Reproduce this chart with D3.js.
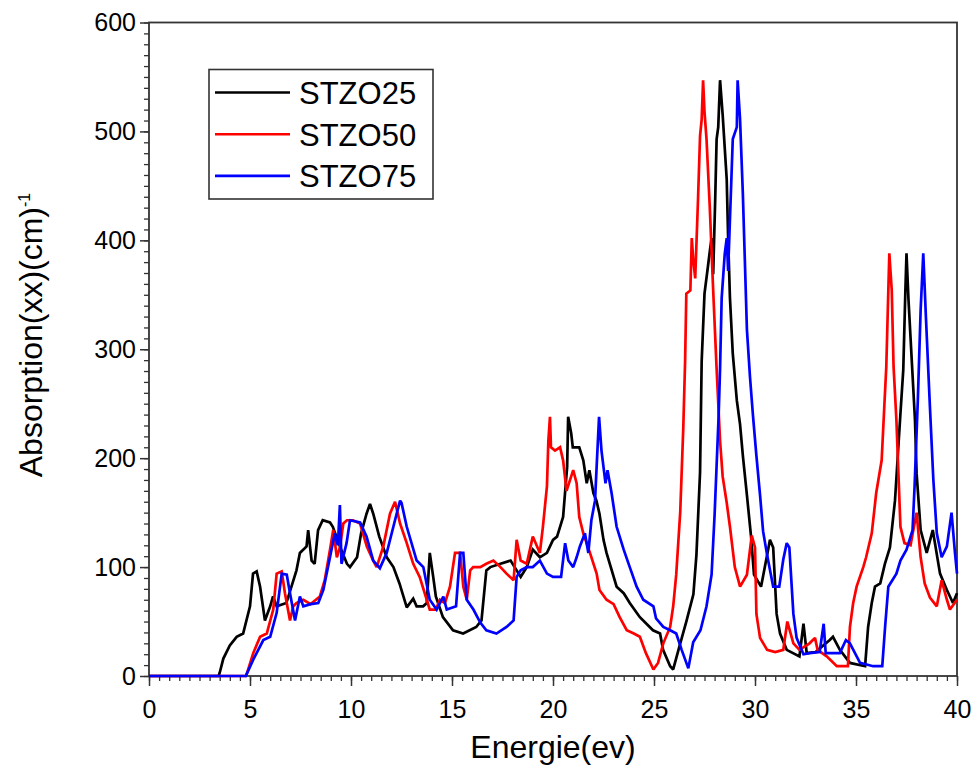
<!DOCTYPE html>
<html><head><meta charset="utf-8">
<script src="https://cdn.jsdelivr.net/npm/d3@7"></script>
<style>
body{margin:0;background:#fff;}
svg{display:block;font-family:"Liberation Sans",Arial,sans-serif;}
</style></head>
<body>
<svg id="chart" width="976" height="769"></svg>
<script>
// ---- data (energy in eV, absorption) ----
const seriesNames = ["STZO25", "STZO50", "STZO75"];
const seriesColors = ["#000000", "#ff0000", "#0000ff"];
const xTicks = [0, 5, 10, 15, 20, 25, 30, 35, 40];
const yTicks = [0, 100, 200, 300, 400, 500, 600];

const stzo25 = [[0,0],[3.45,0],[3.5,3],[3.68,16],[4.0,28],[4.34,36],[4.66,39],[5.0,64],[5.15,94],[5.33,96],[5.5,82],[5.74,51],[6.0,64],[6.14,73],[6.32,64],[6.8,67],[7.3,97],[7.47,113],[7.8,119],[7.88,134],[8.05,106],[8.2,103],[8.37,134],[8.6,143],[8.96,141],[9.1,137],[9.45,119],[9.8,103],[9.95,100],[10.3,109],[10.5,131],[10.77,149],[10.94,158],[11.1,149],[11.4,128],[11.77,109],[12.1,100],[12.4,85],[12.76,63],[13.08,71],[13.25,64],[13.57,64],[13.75,67],[13.9,113],[14.07,91],[14.2,73],[14.55,54],[15.05,42],[15.55,39],[16.2,45],[16.46,51],[16.7,97],[16.9,100],[17.4,103],[17.9,106],[18.4,91],[18.7,100],[19.0,116],[19.35,109],[19.7,113],[20.0,125],[20.2,128],[20.35,137],[20.5,146],[20.7,192],[20.75,238],[20.9,223],[20.98,210],[21.3,210],[21.5,198],[21.67,177],[21.8,189],[22.0,168],[22.15,161],[22.3,149],[22.5,125],[22.65,113],[23.15,82],[23.5,76],[23.8,67],[24.3,54],[24.95,42],[25.3,39],[25.45,24],[25.8,9],[25.95,6],[26.3,30],[26.6,50],[26.95,75],[27.1,111],[27.28,187],[27.36,289],[27.5,351],[27.67,376],[27.77,391],[27.85,402],[27.93,369],[28.03,438],[28.1,493],[28.18,504],[28.27,547],[28.4,515],[28.6,456],[28.67,402],[28.76,347],[28.9,296],[29.1,253],[29.26,231],[29.4,202],[29.6,166],[29.8,129],[29.95,93],[30.3,82],[30.6,111],[30.74,125],[30.9,118],[31.07,57],[31.24,39],[31.57,24],[32.2,18],[32.4,48],[32.56,21],[33.0,22],[33.7,33],[33.86,36],[34.2,24],[34.7,12],[35.45,9],[35.6,45],[35.78,67],[35.94,82],[36.2,85],[36.43,103],[36.68,118],[36.93,161],[37.2,241],[37.34,281],[37.44,351],[37.5,388],[37.6,345],[37.92,235],[38.0,186],[38.2,134],[38.5,113],[38.8,134],[39.16,94],[39.5,79],[39.8,67],[40,76]];

const stzo50 = [[0,0],[4.8,0],[4.84,2],[5.16,21],[5.5,36],[5.83,39],[6.15,61],[6.32,94],[6.57,96],[6.73,76],[6.98,51],[7.14,64],[7.3,67],[7.64,70],[8.0,66],[8.46,73],[8.7,88],[8.96,116],[9.12,134],[9.3,109],[9.45,118],[9.62,140],[9.8,143],[10.1,143],[10.45,140],[10.78,119],[11.1,106],[11.27,100],[11.6,119],[11.93,149],[12.18,160],[12.43,140],[12.76,122],[13.08,103],[13.4,91],[13.75,70],[13.9,61],[14.2,61],[14.4,70],[14.65,67],[14.9,82],[15.15,113],[15.4,113],[15.56,82],[15.73,70],[15.9,97],[16.05,100],[16.4,100],[16.7,103],[17.05,106],[17.4,100],[17.7,94],[18.05,88],[18.2,125],[18.4,106],[18.7,103],[19.0,128],[19.35,113],[19.5,137],[19.7,174],[19.77,216],[19.85,238],[19.9,210],[20.1,207],[20.35,210],[20.5,198],[20.67,170],[21.0,189],[21.17,177],[21.3,146],[21.5,131],[21.83,113],[22.16,94],[22.3,79],[22.65,70],[23.0,66],[23.3,54],[23.65,42],[24.0,39],[24.3,36],[24.6,21],[24.97,6],[25.2,12],[25.46,30],[25.8,45],[25.95,64],[26.1,93],[26.3,151],[26.45,228],[26.54,289],[26.6,351],[26.8,354],[26.87,402],[26.94,383],[27.04,365],[27.18,438],[27.28,496],[27.36,511],[27.43,547],[27.5,518],[27.6,493],[27.76,431],[27.93,354],[28.1,282],[28.27,216],[28.4,183],[28.6,159],[28.76,137],[29.0,100],[29.26,82],[29.6,93],[29.84,129],[30.0,118],[30.07,57],[30.25,35],[30.6,24],[31.0,22],[31.4,24],[31.6,50],[31.9,30],[32.2,24],[32.7,30],[32.97,35],[33.1,24],[33.55,18],[34.05,9],[34.6,9],[34.7,45],[34.86,67],[35.03,82],[35.36,100],[35.5,109],[35.78,131],[36.0,168],[36.27,198],[36.4,247],[36.5,284],[36.6,354],[36.65,388],[36.77,354],[36.86,284],[37.0,235],[37.1,186],[37.2,137],[37.4,122],[37.7,120],[38.0,150],[38.2,109],[38.4,85],[38.66,72],[39.0,64],[39.24,88],[39.5,70],[39.65,61],[40,70]];

const stzo75 = [[0,0],[4.8,0],[4.84,2],[5.16,15],[5.66,33],[6.0,36],[6.32,58],[6.57,94],[6.82,93],[6.98,76],[7.23,51],[7.47,73],[7.64,64],[8.0,66],[8.38,67],[8.63,79],[8.96,109],[9.2,131],[9.35,120],[9.45,157],[9.53,103],[9.78,122],[9.95,143],[10.45,141],[10.77,128],[11.1,106],[11.43,99],[11.77,113],[12.26,149],[12.43,161],[12.5,159],[12.76,137],[13.25,106],[13.58,100],[13.9,70],[14.24,61],[14.57,73],[14.74,61],[15.2,64],[15.4,113],[15.56,113],[15.73,70],[16.06,61],[16.4,49],[16.7,42],[17.2,39],[17.7,45],[18.05,51],[18.2,91],[18.4,97],[18.7,100],[19.0,100],[19.35,106],[19.7,94],[20.0,91],[20.4,91],[20.6,122],[20.76,106],[21.0,100],[21.17,109],[21.33,119],[21.58,131],[21.75,113],[21.9,143],[22.08,161],[22.16,192],[22.28,238],[22.4,207],[22.6,177],[22.7,189],[22.9,168],[23.15,137],[23.5,116],[23.8,100],[24.14,82],[24.47,70],[24.97,64],[25.1,53],[25.46,45],[25.8,42],[26.1,39],[26.37,24],[26.7,7],[26.94,31],[27.3,42],[27.6,64],[27.85,93],[28.0,148],[28.2,239],[28.27,282],[28.35,347],[28.5,387],[28.6,402],[28.67,372],[28.9,493],[29.1,504],[29.14,547],[29.26,511],[29.4,442],[29.6,318],[29.75,275],[29.9,239],[30.07,202],[30.25,166],[30.4,133],[30.6,111],[30.9,82],[31.2,82],[31.4,107],[31.57,122],[31.7,118],[31.9,57],[32.06,35],[32.4,20],[32.7,21],[33.2,22],[33.4,48],[33.5,21],[34.2,21],[34.5,33],[34.7,30],[35.2,12],[35.85,9],[36.3,9],[36.44,45],[36.6,82],[37.0,94],[37.2,106],[37.5,116],[37.8,134],[37.9,174],[38.06,253],[38.2,336],[38.33,388],[38.46,330],[38.66,247],[38.83,180],[39.0,131],[39.24,109],[39.5,119],[39.73,150],[39.9,113],[40,94]];

const seriesData = [stzo25, stzo50, stzo75];

// ---- layout ----
const svg = d3.select("#chart");
const L = 149, R = 957, T = 22.5, B = 676;
const x = d3.scaleLinear().domain([0, 40]).range([L, R]);
const y = d3.scaleLinear().domain([0, 600]).range([B, T]);
const axisColor = "#333";

// minor ticks
svg.append("g").attr("transform", `translate(0,${B})`)
  .call(d3.axisBottom(x).tickValues(d3.range(0, 40.001, 0.5)).tickSize(5).tickFormat(""))
  .call(g => g.select(".domain").remove())
  .call(g => g.selectAll("line").attr("stroke", axisColor).attr("stroke-width", 1.3));
svg.append("g").attr("transform", `translate(${L},0)`)
  .call(d3.axisLeft(y).tickValues(d3.range(0, 600.001, 10)).tickSize(5).tickFormat(""))
  .call(g => g.select(".domain").remove())
  .call(g => g.selectAll("line").attr("stroke", axisColor).attr("stroke-width", 1.3));

// major axes
const xAxis = svg.append("g").attr("transform", `translate(0,${B})`)
  .call(d3.axisBottom(x).tickValues(xTicks).tickSize(10).tickPadding(14).tickFormat(d3.format("d")));
const yAxis = svg.append("g").attr("transform", `translate(${L},0)`)
  .call(d3.axisLeft(y).tickValues(yTicks).tickSize(9).tickPadding(4).tickFormat(d3.format("d")));
[xAxis, yAxis].forEach(g => {
  g.select(".domain").remove();
  g.selectAll("line").attr("stroke", axisColor).attr("stroke-width", 1.5);
  g.selectAll("text").attr("fill", "#000").style("font-size", "25px")
    .style("font-family", "'Liberation Sans', Arial, sans-serif");
});

// frame
svg.append("rect").attr("x", L).attr("y", T).attr("width", R - L).attr("height", B - T)
  .attr("fill", "none").attr("stroke", axisColor).attr("stroke-width", 1.8);

// lines
const line = d3.line().x(d => x(d[0])).y(d => y(d[1]));
seriesData.forEach((s, i) => {
  svg.append("path").datum(s).attr("d", line)
    .attr("fill", "none").attr("stroke", seriesColors[i])
    .attr("stroke-width", 2.7).attr("stroke-linejoin", "miter").attr("stroke-miterlimit", 2);
});

// axis titles
svg.append("text").attr("x", (L + R) / 2).attr("y", 758).attr("text-anchor", "middle")
  .style("font-size", "32px").attr("fill", "#000").text("Energie(ev)");
const yt = svg.append("text").attr("transform", "translate(42,335) rotate(-90)")
  .attr("text-anchor", "middle").style("font-size", "32px").attr("fill", "#000");
yt.append("tspan").text("Absorption(xx)(cm)");
yt.append("tspan").attr("dy", "-0.75em").style("font-size", "16px").text("-1");

// legend
const lg = svg.append("g");
lg.append("rect").attr("x", 209).attr("y", 69.5).attr("width", 224).attr("height", 129.5)
  .attr("fill", "#fff").attr("stroke", axisColor).attr("stroke-width", 1.6);
seriesNames.forEach((n, i) => {
  const ly = 92.5 + i * 41.7;
  lg.append("line").attr("x1", 215).attr("x2", 290).attr("y1", ly).attr("y2", ly)
    .attr("stroke", seriesColors[i]).attr("stroke-width", 2.6);
  lg.append("text").attr("x", 299).attr("y", ly + 11.5).style("font-size", "31px")
    .attr("fill", "#000").text(n);
});
</script>
</body></html>
